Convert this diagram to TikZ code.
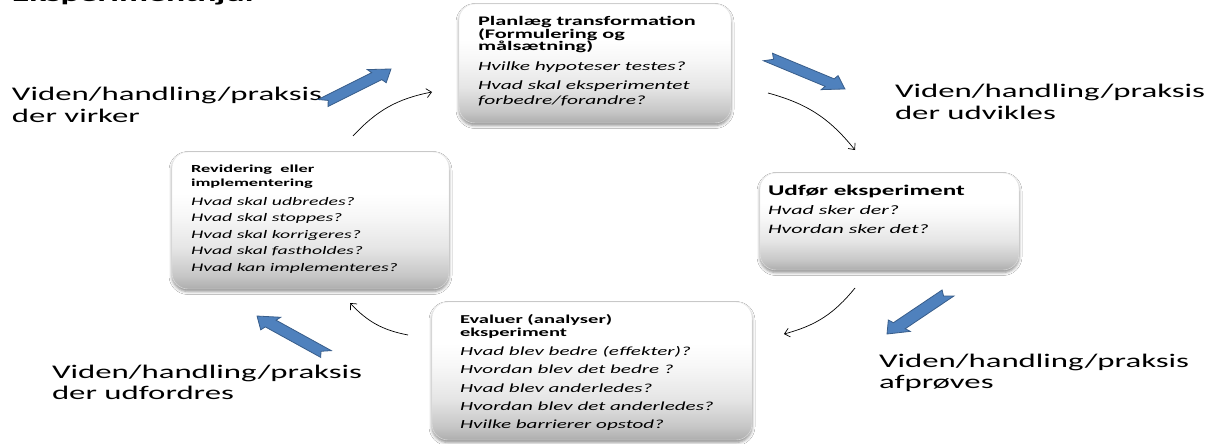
\documentclass[tikz,border=0pt]{standalone}
\usepackage{fontspec}
\setmainfont{Carlito}[FakeStretch=1.7]
\usetikzlibrary{calc,arrows.meta,shadows.blur}
\definecolor{arrowblue}{HTML}{4F81BD}
\definecolor{arrowedge}{HTML}{385D8A}
\pgfdeclareverticalshading{boxshade}{100bp}{color(0bp)=(black!32); color(25bp)=(black!32); color(30bp)=(black!22); color(40bp)=(black!10); color(52bp)=(black!3); color(60bp)=(white); color(100bp)=(white)}
\newcommand\hdf[1]{\fontsize{#1}{#1}\selectfont\bfseries}
\newcommand\itf[1]{\fontsize{#1}{#1}\selectfont\mdseries\itshape}
\newcommand\labf{\fontsize{19.3}{22}\selectfont}
\newcommand\bxl[2]{\baselineskip=#1\relax\hbox{#2}}
\newcommand\bluearrow[4]{%
  \pgfmathsetmacro\bax{#1/1.7}%
  \pgfmathsetmacro\bay{-#2}%
  \pgfmathsetmacro\bdx{(#3-#1)/1.7}%
  \pgfmathsetmacro\bdy{#2-#4}%
  \pgfmathsetmacro\bth{atan2(\bdy,\bdx)}%
  \pgfmathsetmacro\bL{veclen(\bdx,\bdy)}%
  \pgfmathsetmacro\bLh{\bL-11}%
  \begin{scope}[xscale=1.7]
    \draw[blockarrow] ($(\bax,\bay)+(\bth+90:4.6)$) -- ($(\bax,\bay)+(\bth:\bLh)+(\bth+90:4.6)$) -- ($(\bax,\bay)+(\bth:\bLh)+(\bth+90:8.6)$) -- ($(\bax,\bay)+(\bth:\bL)$) -- ($(\bax,\bay)+(\bth:\bLh)+(\bth-90:8.6)$) -- ($(\bax,\bay)+(\bth:\bLh)+(\bth-90:4.6)$) -- ($(\bax,\bay)+(\bth-90:4.6)$) -- ($(\bax,\bay)+(\bth:4)$) -- cycle;
  \end{scope}}
\begin{document}
\begin{tikzpicture}[x=1pt,y=1pt,
  procbox/.style={rectangle, rounded corners=16pt, shade, shading=boxshade, draw=black!10, line width=0.4pt,
    blur shadow={shadow xshift=0pt, shadow yshift=-2.5pt, shadow blur radius=3pt, shadow opacity=45}},
  txt/.style={anchor=base west, inner sep=0pt, outer sep=0pt},
  cyc/.style={-{Straight Barb[length=5pt,width=9pt]}, line width=0.7pt, black},
  blockarrow/.style={fill=arrowblue, draw=arrowedge, line width=0.8pt, line join=miter}]
\useasboundingbox (0,0) rectangle (1211,-444);
\fill[white] (0,0) rectangle (1211,-444);

% title (cut off by the page edge, as in the reference)
\node[txt] (title) at (12,-2) {\hdf{21}Eksperimenthjul};

% boxes
\node[procbox, minimum width=272pt, minimum height=119pt] (plan) at (595,-63.5) {};
\node[procbox, minimum width=259pt, minimum height=97pt] (udfor) at (889.5,-221.5) {};
\node[procbox, minimum width=320pt, minimum height=138pt] (evaluer) at (592,-371) {};
\node[procbox, minimum width=277pt, minimum height=137pt] (revider) at (310.5,-220.5) {};

% box texts
\node[txt] (tplan) at (478,-26) {\vtop{\hdf{13.1}\bxl{0pt}{Planlæg transformation}\bxl{13pt}{(Formulering og}\bxl{12pt}{målsætning)}\itf{12.6}\bxl{20pt}{Hvilke hypoteser testes?}\bxl{18.5pt}{Hvad skal eksperimentet}\bxl{15pt}{forbedre/forandre?}}};
\node[txt] (tudfor) at (768,-195) {\vtop{\hdf{14.8}\bxl{0pt}{Udfør eksperiment}\itf{12.9}\bxl{19pt}{Hvad sker der?}\bxl{19.5pt}{Hvordan sker det?}}};
\node[txt] (tevaluer) at (460,-323) {\vtop{\hdf{12.1}\bxl{0pt}{Evaluer (analyser)}\bxl{13pt}{eksperiment}\itf{12.4}\bxl{19.5pt}{Hvad blev bedre (effekter)?}\bxl{18.3pt}{Hvordan blev det bedre ?}\bxl{18.3pt}{Hvad blev anderledes?}\bxl{18.3pt}{Hvordan blev det anderledes?}\bxl{18.3pt}{Hvilke barrierer opstod?}}};
\node[txt] (trevider) at (191,-172.5) {\vtop{\hdf{10.8}\bxl{0pt}{Revidering\ \ eller}\bxl{13.5pt}{implementering}\itf{11.6}\bxl{19.5pt}{Hvad skal udbredes?}\bxl{16.4pt}{Hvad skal stoppes?}\bxl{16.4pt}{Hvad skal korrigeres?}\bxl{16.4pt}{Hvad skal fastholdes?}\bxl{16.4pt}{Hvad kan implementeres?}}};

% outer labels
\node[txt] (lvirker) at (12,-100) {\vtop{\labf\bxl{0pt}{Viden/handling/praksis}\bxl{22pt}{der virker}}};
\node[txt] (ludvikles) at (895,-97) {\vtop{\labf\bxl{0pt}{Viden/handling/praksis}\bxl{22.5pt}{der udvikles}}};
\node[txt] (lafproves) at (879,-367) {\vtop{\labf\bxl{0pt}{Viden/handling/praksis}\bxl{21.5pt}{afprøves}}};
\node[txt] (ludfordres) at (52,-378) {\vtop{\labf\bxl{0pt}{Viden/handling/praksis}\bxl{21pt}{der udfordres}}};

% thin cycle arrows
\coordinate (c1s) at (353,-136); \coordinate (c1e) at (432,-92);
\coordinate (c2s) at (768,-93);  \coordinate (c2e) at (855,-150);
\coordinate (c3s) at (855,-288); \coordinate (c3e) at (784,-334);
\coordinate (c4s) at (408,-335); \coordinate (c4e) at (350,-303);
\draw[cyc] (c1s) to[bend left=18] (c1e);
\draw[cyc] (c2s) to[bend left=18] (c2e);
\draw[cyc] (c3s) to[bend left=18] (c3e);
\draw[cyc] (c4s) to[bend left=18] (c4e);

% blue block arrows
\bluearrow{323}{103}{391}{69}
\bluearrow{768}{57}{845}{89}
\bluearrow{948}{293}{887}{334}
\bluearrow{326}{354}{257}{316}
\end{tikzpicture}
\end{document}
